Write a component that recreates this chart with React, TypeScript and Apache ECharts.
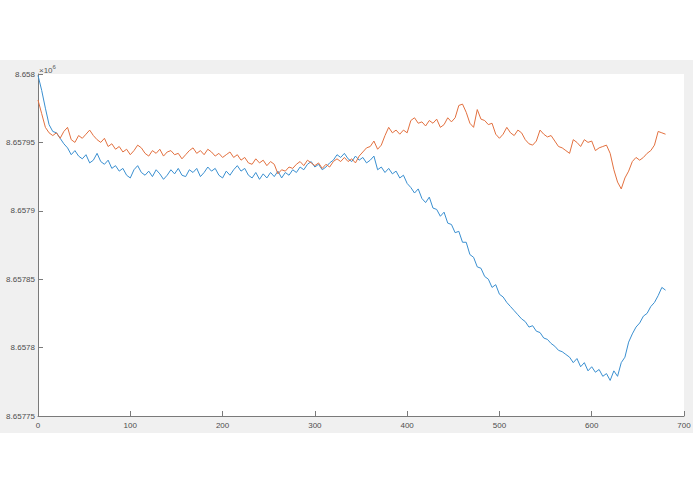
import React, { useEffect, useRef } from 'react';
import * as echarts from 'echarts';

// x step between samples
const xStep = 4;

// blue trace (values in metres)
const blueValues = [
	8657999, 8657988, 8657975, 8657963, 8657958, 8657957, 8657953, 8657949, 8657946, 8657941,
	8657944, 8657940, 8657938, 8657941, 8657935, 8657937, 8657942, 8657936, 8657934, 8657937,
	8657931, 8657933, 8657929, 8657931, 8657926, 8657924, 8657930, 8657933, 8657928, 8657926,
	8657929, 8657925, 8657930, 8657927, 8657923, 8657926, 8657930, 8657927, 8657931, 8657926,
	8657925, 8657930, 8657928, 8657931, 8657925, 8657928, 8657932, 8657929, 8657931, 8657926,
	8657924, 8657929, 8657926, 8657930, 8657933, 8657929, 8657931, 8657926, 8657924, 8657928,
	8657923, 8657927, 8657924, 8657928, 8657925, 8657929, 8657924, 8657928, 8657926, 8657930,
	8657928, 8657932, 8657930, 8657934, 8657936, 8657932, 8657934, 8657930, 8657932, 8657935,
	8657937, 8657941, 8657939, 8657942, 8657938, 8657936, 8657940, 8657937, 8657939, 8657935,
	8657937, 8657940, 8657930, 8657932, 8657928, 8657931, 8657927, 8657929, 8657924, 8657926,
	8657920, 8657917, 8657913, 8657916, 8657909, 8657906, 8657910, 8657902, 8657901, 8657896,
	8657899, 8657891, 8657890, 8657884, 8657885, 8657877, 8657877, 8657868, 8657866, 8657859,
	8657858, 8657852, 8657850, 8657844, 8657846, 8657839, 8657837, 8657833, 8657830, 8657827,
	8657824, 8657821, 8657819, 8657815, 8657816, 8657812, 8657811, 8657807, 8657806, 8657803,
	8657801, 8657798, 8657797, 8657795, 8657793, 8657789, 8657792, 8657786, 8657789, 8657783,
	8657786, 8657782, 8657784, 8657779, 8657781, 8657776, 8657783, 8657779, 8657789, 8657793,
	8657804, 8657810, 8657815, 8657818, 8657823, 8657825, 8657830, 8657833, 8657838, 8657844,
	8657842
];

// orange trace (values in metres)
const orangeValues = [
	8657981, 8657971, 8657961, 8657957, 8657955, 8657957, 8657953, 8657958, 8657961, 8657952,
	8657950, 8657955, 8657953, 8657956, 8657959, 8657955, 8657952, 8657950, 8657953, 8657947,
	8657949, 8657945, 8657947, 8657943, 8657945, 8657941, 8657944, 8657948, 8657946, 8657942,
	8657940, 8657944, 8657942, 8657945, 8657940, 8657943, 8657944, 8657941, 8657942, 8657938,
	8657941, 8657944, 8657946, 8657942, 8657944, 8657941, 8657945, 8657943, 8657940, 8657942,
	8657939, 8657941, 8657943, 8657939, 8657941, 8657937, 8657939, 8657935, 8657934, 8657938,
	8657935, 8657937, 8657933, 8657936, 8657934, 8657927, 8657930, 8657929, 8657932, 8657931,
	8657934, 8657936, 8657933, 8657937, 8657935, 8657933, 8657935, 8657931, 8657934, 8657932,
	8657936, 8657938, 8657936, 8657939, 8657936, 8657938, 8657935, 8657940, 8657943, 8657946,
	8657947, 8657951, 8657945, 8657948, 8657955, 8657961, 8657957, 8657959, 8657956, 8657959,
	8657957, 8657966, 8657968, 8657964, 8657965, 8657962, 8657966, 8657964, 8657967, 8657961,
	8657963, 8657968, 8657965, 8657968, 8657977, 8657978, 8657972, 8657964, 8657961, 8657974,
	8657967, 8657966, 8657963, 8657964, 8657956, 8657953, 8657956, 8657961, 8657957, 8657955,
	8657959, 8657957, 8657952, 8657949, 8657948, 8657951, 8657959, 8657956, 8657954, 8657955,
	8657951, 8657947, 8657946, 8657944, 8657942, 8657952, 8657950, 8657947, 8657952, 8657950,
	8657951, 8657944, 8657946, 8657947, 8657948, 8657942, 8657930, 8657921, 8657916, 8657924,
	8657929, 8657936, 8657939, 8657937, 8657939, 8657942, 8657944, 8657948, 8657958, 8657957,
	8657956
];

const yMin = 8657750;
const yMax = 8658000;
const yInterval = 50;

const fmtY = (v: number) => String(Number((v / 1e6).toFixed(5)));

const App: React.FC = () => {
	const chartRef = useRef<HTMLDivElement>(null);

	useEffect(() => {
		if (!chartRef.current) return;
		const chart = echarts.init(chartRef.current, null, { renderer: 'svg' });

		const toPairs = (vals: number[]) => vals.map((v, i) => [i * xStep, v]);

		const option: echarts.EChartsOption = {
			animation: false,
			backgroundColor: '#fff',
			textStyle: { fontFamily: 'Liberation Sans, Arial, sans-serif' },
			graphic: [
				{
					type: 'rect',
					z: -10,
					shape: { x: 0, y: 60, width: 693, height: 373 },
					style: { fill: '#f0f0f0' },
					silent: true
				},
				{
					type: 'text',
					x: 39,
					y: 64,
					style: {
						text: '{a|×10}{b|6}',
						rich: {
							a: { fontSize: 8, fill: '#555', fontFamily: 'Liberation Sans', verticalAlign: 'bottom' },
							b: { fontSize: 6, fill: '#555', fontFamily: 'Liberation Sans', verticalAlign: 'top', padding: [0, 0, 4, 0] }
						}
					}
				}
			],
			grid: {
				left: 38,
				top: 74,
				right: 11,
				bottom: 78,
				show: true,
				backgroundColor: '#fff',
				borderWidth: 0
			},
			xAxis: {
				type: 'value',
				min: 0,
				max: 700,
				interval: 100,
				axisLine: { show: true, lineStyle: { color: '#7a7a7a', width: 1 } },
				axisTick: { show: true, inside: true, length: 5, lineStyle: { color: '#7a7a7a' } },
				axisLabel: { fontSize: 8, color: '#4d4d4d', margin: 5 },
				splitLine: { show: false }
			},
			yAxis: {
				type: 'value',
				min: yMin,
				max: yMax,
				interval: yInterval,
				axisLine: { show: true, lineStyle: { color: '#7a7a7a', width: 1 } },
				axisTick: { show: true, inside: true, length: 5, lineStyle: { color: '#7a7a7a' } },
				axisLabel: { fontSize: 8, color: '#4d4d4d', margin: 3, formatter: fmtY },
				splitLine: { show: false }
			},
			series: [
				{
					type: 'line',
					data: toPairs(blueValues),
					showSymbol: false,
					lineStyle: { color: '#3a8fd0', width: 1 },
					itemStyle: { color: '#3a8fd0' }
				},
				{
					type: 'line',
					data: toPairs(orangeValues),
					showSymbol: false,
					lineStyle: { color: '#e2703f', width: 1 },
					itemStyle: { color: '#e2703f' }
				}
			]
		};

		chart.setOption(option);
		return () => {
			chart.dispose();
		};
	}, []);

	return (
		<div style={{ position: 'absolute', left: 0, top: 0, width: 695, height: 494, background: '#fff' }}>
			<div ref={chartRef} style={{ width: '695px', height: '494px' }} />
		</div>
	);
};

export default App;
